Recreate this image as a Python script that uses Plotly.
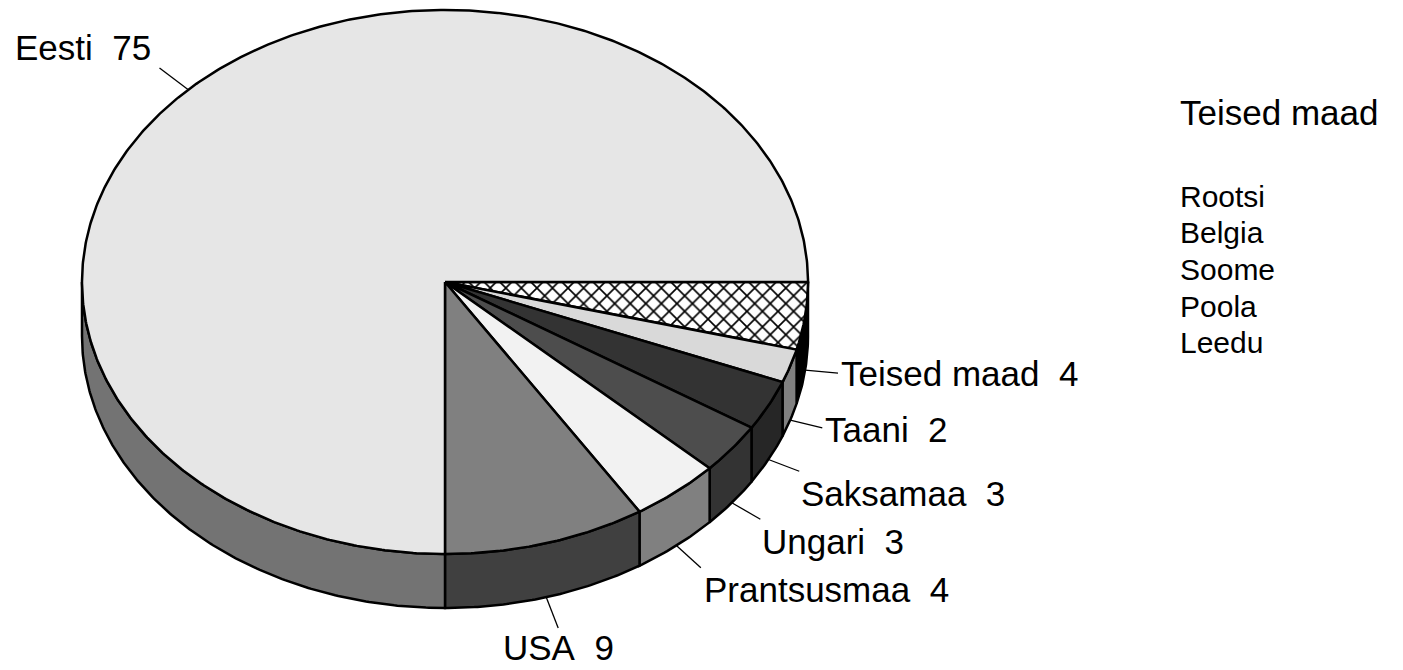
import numpy as np
import plotly.graph_objects as go

# ---- data ----
countries = ["Teised maad", "Taani", "Saksamaa", "Ungari", "Prantsusmaa", "USA", "Eesti"]
values = [4, 2, 3, 3, 4, 9, 75]
other_title = "Teised maad"
other_countries = ["Rootsi", "Belgia", "Soome", "Poola", "Leedu"]

# ---- styles ----
top_colors = ["#ffffff", "#d9d9d9", "#333333", "#4d4d4d", "#f2f2f2", "#808080", "#e6e6e6"]
side_colors = ["#000000", "#808080", "#262626", "#333333", "#808080", "#404040", "#737373"]
patterned = [True, False, False, False, False, False, False]
# label placement relative to leader end: (xanchor, yanchor, dx, dy)
label_place = [
    ("left", "middle", 1, 0),
    ("left", "middle", 1, 2),
    ("left", "middle", 0, 22),
    ("left", "middle", 0, 22),
    ("left", "middle", 1, 22),
    ("center", "middle", 0, 20),
    ("right", "middle", -7, -21),
]

W, H = 1403, 670
PAGE_OFFSET = 8  # default body margin of the html page
CX, CY, RX, RY, DEPTH = 445, 282, 363, 272, 54
LEADER = 33
FONT = "Liberation Sans, Arial, sans-serif"
LW = 2.5
LIST_TOP, LIST_STEP = 196, 36.7

total = float(sum(values))
bounds = np.concatenate([[0.0], np.cumsum(values)]) / total * 2 * np.pi

fig = go.Figure()


def arc(a1, a2, dy=0.0, n=None):
    if n is None:
        n = max(4, int(abs(a2 - a1) / (2 * np.pi) * 720))
    t = np.linspace(a1, a2, n)
    return CX + RX * np.cos(t), CY + RY * np.sin(t) + dy


# side walls (visible front half: angles 0..pi)
for i in range(len(values)):
    a1, a2 = bounds[i], bounds[i + 1]
    s1, s2 = max(a1, 0.0), min(a2, np.pi)
    if s2 <= s1:
        continue
    xt, yt = arc(s1, s2)
    xb, yb = arc(s2, s1, DEPTH)
    xs = np.concatenate([xt, xb, xt[:1]])
    ys = np.concatenate([yt, yb, yt[:1]])
    fig.add_trace(go.Scatter(x=xs, y=ys, mode="lines", fill="toself",
                             fillcolor=side_colors[i],
                             line=dict(color="black", width=LW),
                             hoverinfo="skip", showlegend=False))

# tops
for i in range(len(values)):
    a1, a2 = bounds[i], bounds[i + 1]
    xt, yt = arc(a1, a2)
    xs = np.concatenate([[CX], xt, [CX]])
    ys = np.concatenate([[CY], yt, [CY]])
    kw = dict(fillcolor=top_colors[i])
    if patterned[i]:
        kw["fillpattern"] = dict(shape="x", bgcolor="white", fgcolor="black",
                                 size=11, solidity=0.28, fillmode="replace")
    fig.add_trace(go.Scatter(x=xs, y=ys, mode="lines", fill="toself",
                             line=dict(color="black", width=LW),
                             hoverinfo="skip", showlegend=False, **kw))

# leaders and labels
annotations = []
for i, (name, v) in enumerate(zip(countries, values)):
    mid = (bounds[i] + bounds[i + 1]) / 2
    sx = CX + RX * np.cos(mid)
    sy = CY + RY * np.sin(mid)
    if 0 < mid < np.pi:
        sy += DEPTH
    nx, ny = RX * np.cos(mid), RY * np.sin(mid)
    nn = np.hypot(nx, ny)
    L = LEADER if mid < np.pi else LEADER + 3
    ex, ey = sx + L * nx / nn, sy + L * ny / nn
    fig.add_trace(go.Scatter(x=[sx, ex], y=[sy, ey], mode="lines",
                             line=dict(color="black", width=1.3),
                             hoverinfo="skip", showlegend=False))
    xa, ya, dx, dy = label_place[i]
    annotations.append(dict(x=ex, y=ey, xref="x", yref="y", xshift=dx, yshift=-dy,
                            text=f"{name}\u00a0 {v}", showarrow=False,
                            xanchor=xa, yanchor=ya,
                            font=dict(family=FONT, size=35, color="black")))

annotations.append(dict(x=1178, y=112, xref="x", yref="y", text=other_title,
                        showarrow=False, xanchor="left", yanchor="middle",
                        font=dict(family=FONT, size=35, color="black")))
for k, c in enumerate(other_countries):
    annotations.append(dict(x=1178, y=LIST_TOP + LIST_STEP * k, xref="x", yref="y",
                            text=c, showarrow=False, xanchor="left", yanchor="middle",
                            font=dict(family=FONT, size=30, color="black")))

fig.update_layout(
    width=W, height=H,
    margin=dict(l=0, r=0, t=0, b=0),
    paper_bgcolor="white", plot_bgcolor="white",
    xaxis=dict(range=[PAGE_OFFSET, W + PAGE_OFFSET], visible=False, fixedrange=True),
    yaxis=dict(range=[H + PAGE_OFFSET, PAGE_OFFSET], visible=False, fixedrange=True),
    annotations=annotations,
    hovermode=False,
)

fig.write_html("out.html")
